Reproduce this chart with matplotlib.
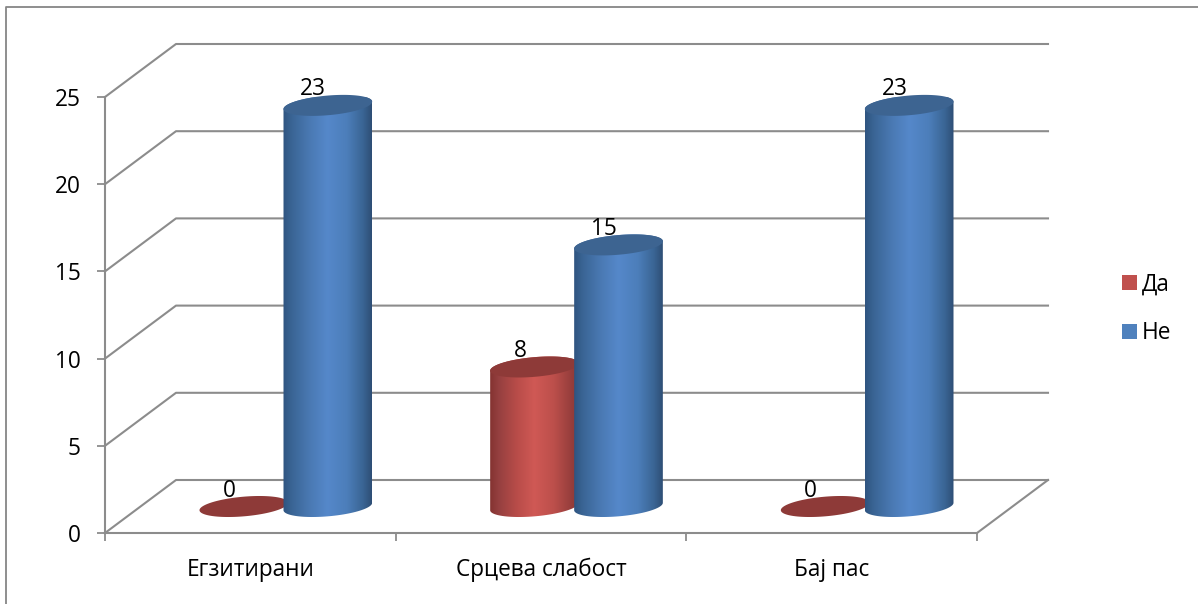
import numpy as np
import matplotlib
matplotlib.use("Agg")
import matplotlib.pyplot as plt
from matplotlib.colors import LinearSegmentedColormap
from matplotlib.lines import Line2D
from matplotlib.patches import Patch, PathPatch, Polygon
from matplotlib.path import Path

plt.rcParams["font.family"] = ["Open Sans", "DejaVu Sans"]

categories = ["Егзитирани", "Срцева слабост", "Бај пас"]
da_values = [0, 8, 0]
ne_values = [23, 15, 23]
y_ticks = [0, 5, 10, 15, 20, 25]

W, H = 1198, 604
LEFT, RIGHT, BOTTOM, TOP = 105, 977, 533, 97  # plot frame, in pixels
GRID = "#8c8c8c"
TEXT_SIZE = 16.3

fig = plt.figure(figsize=(W / 100, H / 100), dpi=100, facecolor="white")
ax = fig.add_axes([LEFT / W, 1 - BOTTOM / H, (RIGHT - LEFT) / W, (BOTTOM - TOP) / H])

# scale between pixels and data units
px_x = (len(categories)) / (RIGHT - LEFT)
px_y = 25 / (BOTTOM - TOP)
depth_x = 71 * px_x
depth_y = 53 * px_y

# outer chart border (left and top only)
fig.add_artist(Line2D([6 / W, 6 / W, 1], [0, 1 - 7 / H, 1 - 7 / H], color="#868686", lw=1.3))

# back wall and side wall
ax_xmin, ax_xmax = -0.5, len(categories) - 0.5
for v in y_ticks:
    ax.plot([ax_xmin, ax_xmin + depth_x, ax_xmax + depth_x],
            [v, v + depth_y, v + depth_y], color=GRID, lw=1.5, clip_on=False, zorder=1)
ax.plot([ax_xmax + depth_x, ax_xmax], [depth_y, 0], color=GRID, lw=1.5, clip_on=False, zorder=1)

blue_cmap = LinearSegmentedColormap.from_list(
    "ne", [(0, "#2f5480"), (0.1, "#3a6595"), (0.3, "#4a79b3"), (0.5, "#5588ca"),
           (0.72, "#4c7eba"), (0.9, "#3a6594"), (1, "#2e4e75")])
red_cmap = LinearSegmentedColormap.from_list(
    "da", [(0, "#843331"), (0.1, "#964040"), (0.3, "#b84c49"), (0.5, "#d05955"),
           (0.72, "#bc4f4b"), (0.9, "#993f3d"), (1, "#8a3835")])
gradient = np.linspace(0, 1, 256).reshape(1, -1)

TILT = np.radians(5)
A_PX, B_PX = 44.5, 9.8


def rim(cx, value, t):
    # tilted ellipse outline, t in radians, returned in data units
    ex = A_PX * np.cos(t) * np.cos(TILT) + B_PX * np.sin(t) * np.sin(TILT)
    ey = A_PX * np.cos(t) * np.sin(TILT) - B_PX * np.sin(t) * np.cos(TILT)
    return cx + ex * px_x, value + depth_y / 2 + ey * px_y


def draw_cylinder(cx, value, cmap, cap_color, z):
    t_all = np.linspace(0, 2 * np.pi, 120)
    if value > 0:
        # body: front of the base rim, then back of the top rim
        x1, y1 = rim(cx, 0, np.linspace(0, np.pi, 60))
        x2, y2 = rim(cx, value, np.linspace(np.pi, 2 * np.pi, 60))
        body = np.column_stack([np.r_[x1, x2], np.r_[y1, y2]])
        clip = PathPatch(Path(np.vstack([body, body[0]])), transform=ax.transData)
        extent = [cx - A_PX * px_x, cx + A_PX * px_x, 0, value + depth_y]
        im = ax.imshow(gradient, cmap=cmap, extent=extent, aspect="auto", zorder=z)
        im.set_clip_path(clip)
    xc, yc = rim(cx, value, t_all)
    ax.add_patch(Polygon(np.column_stack([xc, yc]), closed=True, fc=cap_color, ec="none",
                         zorder=z + 0.1, clip_on=False))


centers = np.arange(len(categories)) + depth_x / 2
offset = 42 * px_x

for i, c in enumerate(centers):
    for cx, value, cmap, cap, z in [(c - offset, da_values[i], red_cmap, "#8e3a38", 3),
                                    (c + offset, ne_values[i], blue_cmap, "#3d6491", 4)]:
        draw_cylinder(cx, value, cmap, cap, z)
        ax.annotate(str(value), (cx, value + depth_y / 2), xytext=(-10.5, 11.5),
                    textcoords="offset points", ha="center", va="center",
                    fontsize=TEXT_SIZE, color="black", zorder=6, annotation_clip=False)

ax.set_xlim(ax_xmin, ax_xmax)
ax.set_ylim(0, 25)
ax.patch.set_visible(False)

for side in ["top", "right"]:
    ax.spines[side].set_visible(False)
for side in ["left", "bottom"]:
    ax.spines[side].set_color(GRID)
    ax.spines[side].set_linewidth(1.5)
    ax.spines[side].set_zorder(2)

ax.set_yticks(y_ticks)
ax.set_xticks(np.arange(len(categories)), categories)
ax.set_xticks(np.arange(len(categories) + 1) - 0.5, minor=True)
ax.tick_params(axis="y", length=5.5, width=1.3, color=GRID, pad=12, labelsize=TEXT_SIZE)
ax.tick_params(axis="x", which="major", length=0, pad=18, labelsize=TEXT_SIZE)
ax.tick_params(axis="x", which="minor", length=5.5, width=1.3, color=GRID)

handles = [Patch(fc="#C0504D", ec="none", label="Да"), Patch(fc="#4F81BD", ec="none", label="Не")]
fig.legend(handles=handles, loc="center left", bbox_to_anchor=(1104 / W, 1 - 309 / H),
           frameon=False, fontsize=TEXT_SIZE, handlelength=0.66, handleheight=0.66,
           handletextpad=0.22, labelspacing=1.1, borderpad=0.3)

fig.savefig("out.png", dpi=100, facecolor="white")
